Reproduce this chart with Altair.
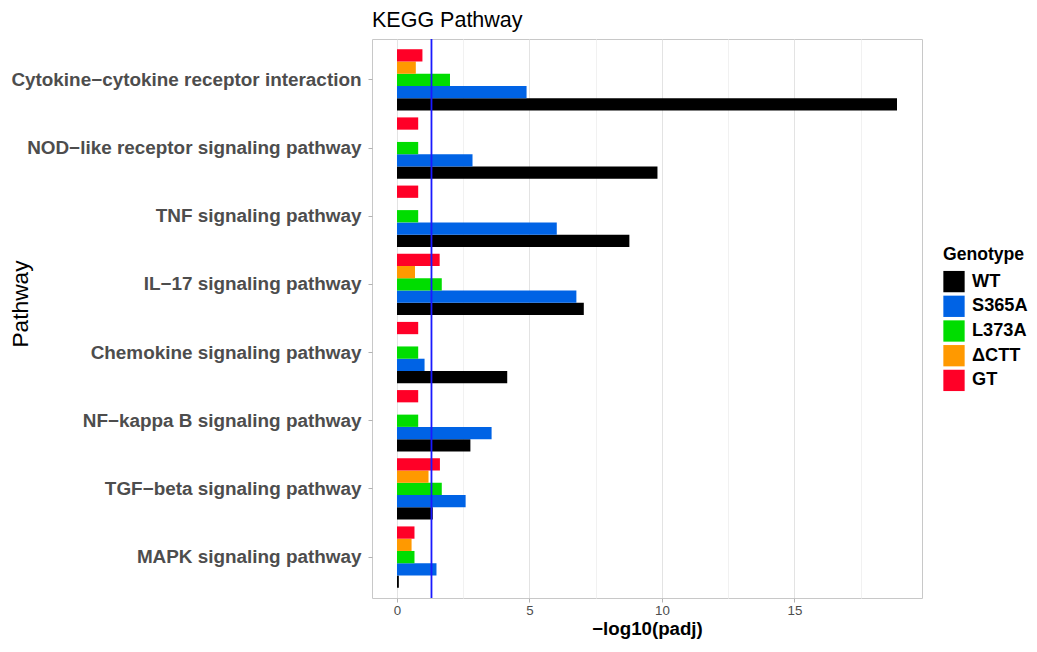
import math
import altair as alt
import pandas as pd

pathways = [
    "Cytokine−cytokine receptor interaction",
    "NOD−like receptor signaling pathway",
    "TNF signaling pathway",
    "IL−17 signaling pathway",
    "Chemokine signaling pathway",
    "NF−kappa B signaling pathway",
    "TGF−beta signaling pathway",
    "MAPK signaling pathway",
]
genotypes = ["WT", "S365A", "L373A", "ΔCTT", "GT"]
colors = ["#000000", "#0063E5", "#00DD00", "#FF9900", "#FF0027"]

wt = [18.87, 9.83, 8.77, 7.05, 4.16, 2.77, 1.35, 0.07]
s365a = [4.89, 2.85, 6.03, 6.77, 1.04, 3.57, 2.59, 1.49]
l373a = [2.00, 0.80, 0.80, 1.69, 0.80, 0.80, 1.69, 0.66]
dctt = [0.71, None, None, 0.68, None, None, 1.19, 0.55]
gt = [0.96, 0.80, 0.80, 1.61, 0.80, 0.80, 1.62, 0.66]

padj_cutoff = 0.05
x_ticks = [0, 2.5, 5, 7.5, 10, 12.5, 15, 17.5]

series = {"WT": wt, "S365A": s365a, "L373A": l373a, "ΔCTT": dctt, "GT": gt}
rows = []
for g, vals in series.items():
    for p, v in zip(pathways, vals):
        if v is not None:
            rows.append({"Pathway": p, "Genotype": g, "value": v})
df = pd.DataFrame(rows)

x_max = max(wt)
x_domain = [-0.05 * x_max, 1.05 * x_max]
FONT = "Liberation Sans"

bars = alt.Chart(df).mark_bar().encode(
    x=alt.X(
        "value:Q",
        title="−log10(padj)",
        scale=alt.Scale(domain=x_domain, nice=False, zero=False),
        axis=alt.Axis(
            values=x_ticks,
            labelExpr="datum.value % 5 === 0 ? datum.label : ''",
            gridColor={"condition": {"test": "datum.value % 5 === 0", "value": "#e3e3e3"}, "value": "#f1f1f1"},
            tickOpacity={"condition": {"test": "datum.value % 5 === 0", "value": 1}, "value": 0},
            tickColor="#b3b3b3",
            tickSize=4,
            labelFontSize=13.3,
            labelColor="#4d4d4d",
            labelPadding=1,
            titleFontSize=18.7,
            titleFontWeight="bold",
            titleColor="#000000",
            titlePadding=3,
            domain=False,
        ),
    ),
    y=alt.Y(
        "Pathway:N",
        title="Pathway",
        sort=pathways,
        scale=alt.Scale(domain=pathways, paddingInner=0.1, paddingOuter=0.15),
        axis=alt.Axis(
            labelFontSize=18.9,
            labelFontWeight="bold",
            labelColor="#4d4d4d",
            labelPadding=7,
            labelLimit=600,
            tickColor="#b3b3b3",
            tickSize=4,
            bandPosition=0.5,
            gridColor="#e3e3e3",
            domain=False,
            titleFontSize=22.7,
            titleFontWeight="normal",
            titleColor="#000000",
            titleX=-352,
            titleY=264.5,
            titleAngle=270,
            titleAlign="center",
            titleBaseline="middle",
        ),
    ),
    yOffset=alt.YOffset(
        "Genotype:N",
        scale=alt.Scale(domain=genotypes[::-1], paddingInner=0, paddingOuter=0),
    ),
    color=alt.Color(
        "Genotype:N",
        scale=alt.Scale(domain=genotypes, range=colors),
        legend=alt.Legend(
            title="Genotype",
            orient="none",
            legendX=571,
            legendY=207,
            symbolType="square",
            symbolSize=454,
            symbolStrokeWidth=0,
            symbolOpacity=1,
            rowPadding=2.7,
            labelOffset=7,
            labelFontSize=18.2,
            labelFontWeight="bold",
            labelColor="#000000",
            titleFontSize=17.6,
            titleFontWeight="bold",
            titleColor="#000000",
            titlePadding=7,
        ),
    ),
)

rule = alt.Chart().mark_rule(color="#1a1aff", strokeWidth=1.8).encode(
    x=alt.datum(-math.log10(padj_cutoff))
)

chart = alt.layer(bars, rule).properties(
    width=550,
    height=559,
    title=alt.TitleParams(
        "KEGG Pathway",
        anchor="start",
        frame="group",
        fontSize=21.5,
        fontWeight="normal",
        color="#000000",
        baseline="alphabetic",
        offset=12,
        dy=22,
    ),
    autosize=alt.AutoSizeParams(type="none"),
    padding={"left": 364, "top": 31, "right": 106, "bottom": 41},
).configure(
    font=FONT,
).configure_view(
    stroke="#c8c8c8",
    strokeWidth=1,
).configure_axis(
    labelFont=FONT,
    titleFont=FONT,
).configure_legend(
    labelFont=FONT,
    titleFont=FONT,
).configure_title(
    font=FONT,
)

chart.save("out.html", embed_options={"renderer": "svg", "actions": False})
